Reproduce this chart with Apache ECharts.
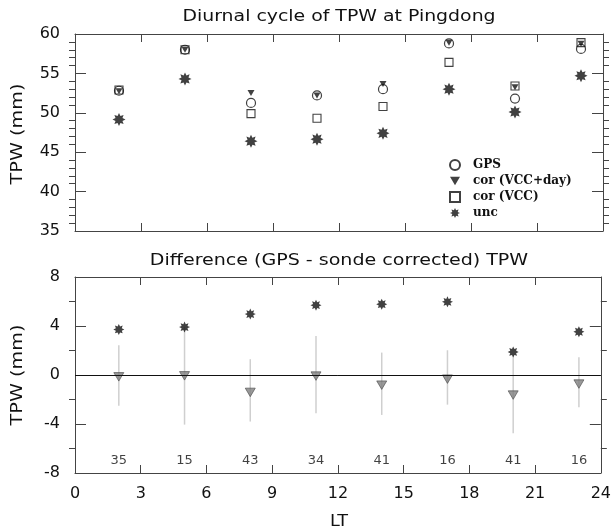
<!DOCTYPE html>
<html><head><meta charset="utf-8">
<script src="https://cdn.jsdelivr.net/npm/echarts@6/dist/echarts.min.js"></script>
<style>html,body{margin:0;padding:0;background:#fff}#c{width:614px;height:532px}</style>
</head><body><div id="c"></div>
<script>
// ---- data ----
const hours = [2, 5, 8, 11, 14, 17, 20, 23];
const gpsTPW = [52.8, 58.0, 51.25, 52.2, 53.0, 58.8, 51.8, 58.1];
const corDayTPW = [52.75, 58.0, 52.5, 52.2, 53.65, 58.9, 53.25, 58.75];
const corVccTPW = [52.9, 58.0, 49.9, 49.3, 50.8, 56.4, 53.4, 58.9];
const uncTPW = [49.15, 54.3, 46.4, 46.65, 47.4, 53.0, 50.1, 54.7];
const diffUnc = [3.72, 3.91, 4.97, 5.70, 5.78, 5.97, 1.88, 3.53];
const diffCor = [-0.15, -0.07, -1.42, -0.09, -0.83, -0.34, -1.64, -0.74];
const errLow = [-2.50, -4.05, -3.80, -3.13, -3.26, -2.42, -4.75, -2.64];
const errHigh = [2.42, 3.94, 1.29, 3.18, 1.83, 2.02, 1.60, 1.45];
const counts = [35, 15, 43, 34, 41, 16, 41, 16];
const xTicks = [0, 3, 6, 9, 12, 15, 18, 21, 24];
const topYTicks = [35, 40, 45, 50, 55, 60];
const botYTicks = [-8, -4, 0, 4, 8];
const countLabelY = -7.0;

// ---- symbol shapes ----
function starPath(n, rIn) {
  let d = '';
  for (let i = 0; i < 2 * n; i++) {
    const r = i % 2 ? rIn : 1;
    const a = Math.PI * i / n - Math.PI / 2;
    const x = (50 + 50 * r * Math.cos(a)).toFixed(2);
    const y = (50 + 50 * r * Math.sin(a)).toFixed(2);
    d += (i === 0 ? 'M' : 'L') + x + ' ' + y + ' ';
  }
  return 'path://' + d + 'Z';
}
const STAR = starPath(8, 0.58);
const TRI_DOWN = 'path://M0 0 L100 0 L50 86 Z';
const pairs = (ys) => hours.map((h, i) => [h, ys[i]]);

const AX = '#444';
const SANS = 'DejaVu Sans, sans-serif';
function xAx(grid, pos, labels) {
  return {
    type: 'value', gridIndex: grid, position: pos, min: xTicks[0], max: xTicks[xTicks.length - 1], interval: 3,
    axisLine: { show: true, onZero: false, lineStyle: { color: AX, width: 1 } },
    axisTick: { show: true, inside: true, length: 8, lineStyle: { color: AX } },
    axisLabel: { show: labels, margin: 13, fontFamily: SANS, fontSize: 16, color: '#111' },
    splitLine: { show: false }
  };
}
function yAx(grid, pos, ticks, minorSplit, labels) {
  return {
    type: 'value', gridIndex: grid, position: pos, min: ticks[0], max: ticks[ticks.length - 1],
    interval: ticks[1] - ticks[0],
    axisLine: { show: true, onZero: false, lineStyle: { color: AX, width: 1 } },
    axisTick: { show: true, inside: true, length: 11, lineStyle: { color: AX } },
    minorTick: { show: true, splitNumber: minorSplit, length: -6, lineStyle: { color: AX } },
    axisLabel: { show: labels, margin: 15, fontFamily: SANS, fontSize: 16, color: '#111' },
    splitLine: { show: false }, minorSplitLine: { show: false }
  };
}
function txt(text, x, y, rot, sx) {
  return { type: 'text', x: x, y: y, rotation: rot, scaleX: sx, scaleY: 1,
    style: { text: text, textAlign: 'center', textVerticalAlign: 'middle', font: '16px DejaVu Sans', fill: '#111' } };
}

const chart = echarts.init(document.getElementById('c'), null, { renderer: 'canvas' });
chart.setOption({
  animation: false,
  backgroundColor: '#fff',
  grid: [
    { left: 75, right: 11, top: 34, height: 197 },
    { left: 75, right: 11, top: 277, height: 196 }
  ],
  graphic: [
    txt('Diurnal cycle of TPW at Pingdong', 339, 17, 0, 1.18),
    txt('Difference (GPS - sonde corrected) TPW', 339, 261, 0, 1.19),
    txt('TPW (mm)', 18, 134, Math.PI / 2, 1.2),
    txt('TPW (mm)', 18, 375, Math.PI / 2, 1.2),
    txt('LT', 339, 522, 0, 1.1)
  ],
  legend: {
    data: [
      { name: 'GPS' },
      { name: 'cor (VCC+day)', icon: TRI_DOWN },
      { name: 'cor (VCC)' },
      { name: 'unc' }
    ],
    orient: 'vertical', left: 449, top: 158, padding: 0,
    itemWidth: 10, itemHeight: 10, itemGap: 2,
    textStyle: { fontFamily: 'DejaVu Serif, serif', fontWeight: 'bold', fontSize: 12, lineHeight: 14,
                 color: '#111', padding: [0, 0, 0, 8] },
    selectedMode: false
  },
  xAxis: [xAx(0, 'bottom', false), xAx(0, 'top', false), xAx(1, 'bottom', true), xAx(1, 'top', false)],
  yAxis: [
    yAx(0, 'left', topYTicks, 5, true),
    yAx(0, 'right', topYTicks, 5, false),
    yAx(1, 'left', botYTicks, 2, true),
    yAx(1, 'right', botYTicks, 2, false)
  ],
  series: [
    { name: 'GPS', type: 'scatter', xAxisIndex: 0, yAxisIndex: 0, data: pairs(gpsTPW),
      symbol: 'circle', symbolSize: 9,
      itemStyle: { color: 'rgba(255,255,255,0)', borderColor: '#111', borderWidth: 1.2 } },
    { name: 'cor (VCC+day)', type: 'scatter', xAxisIndex: 0, yAxisIndex: 0, data: pairs(corDayTPW),
      symbol: TRI_DOWN, symbolSize: [7, 6],
      itemStyle: { color: '#111' } },
    { name: 'cor (VCC)', type: 'scatter', xAxisIndex: 0, yAxisIndex: 0, data: pairs(corVccTPW),
      symbol: 'rect', symbolSize: 8,
      itemStyle: { color: 'rgba(255,255,255,0)', borderColor: '#111', borderWidth: 1.1 } },
    { name: 'unc', type: 'scatter', xAxisIndex: 0, yAxisIndex: 0, data: pairs(uncTPW),
      symbol: STAR, symbolSize: 13, itemStyle: { color: '#111' } },

    { name: 'errbar', type: 'custom', xAxisIndex: 2, yAxisIndex: 2,
      data: hours.map((h, i) => [h, errLow[i], errHigh[i]]),
      renderItem: function (params, api) {
        const p1 = api.coord([api.value(0), api.value(1)]);
        const p2 = api.coord([api.value(0), api.value(2)]);
        return { type: 'line', shape: { x1: p1[0], y1: p1[1], x2: p2[0], y2: p2[1] },
                 style: { stroke: '#cfcfcf', lineWidth: 1.5 } };
      },
      markLine: { silent: true, symbol: 'none', label: { show: false },
        lineStyle: { color: '#111', width: 1, type: 'solid' }, data: [{ yAxis: 0 }] },
      z: 1 },
    { name: 'diff cor', type: 'scatter', xAxisIndex: 2, yAxisIndex: 2, data: pairs(diffCor),
      symbol: TRI_DOWN, symbolSize: [10, 8.5],
      itemStyle: { color: '#808080', borderColor: '#4a4a4a', borderWidth: 0.8 }, z: 3 },
    { name: 'diff unc', type: 'scatter', xAxisIndex: 2, yAxisIndex: 2, data: pairs(diffUnc),
      symbol: STAR, symbolSize: 11, itemStyle: { color: '#111' }, z: 3 },
    { name: 'counts', type: 'scatter', xAxisIndex: 2, yAxisIndex: 2, silent: true,
      data: hours.map((h, i) => [h, countLabelY, counts[i]]),
      symbolSize: 0,
      label: { show: true, position: 'inside', formatter: p => String(p.value[2]),
               fontFamily: SANS, fontSize: 13, color: '#111' } }
  ]
});
</script></body></html>
